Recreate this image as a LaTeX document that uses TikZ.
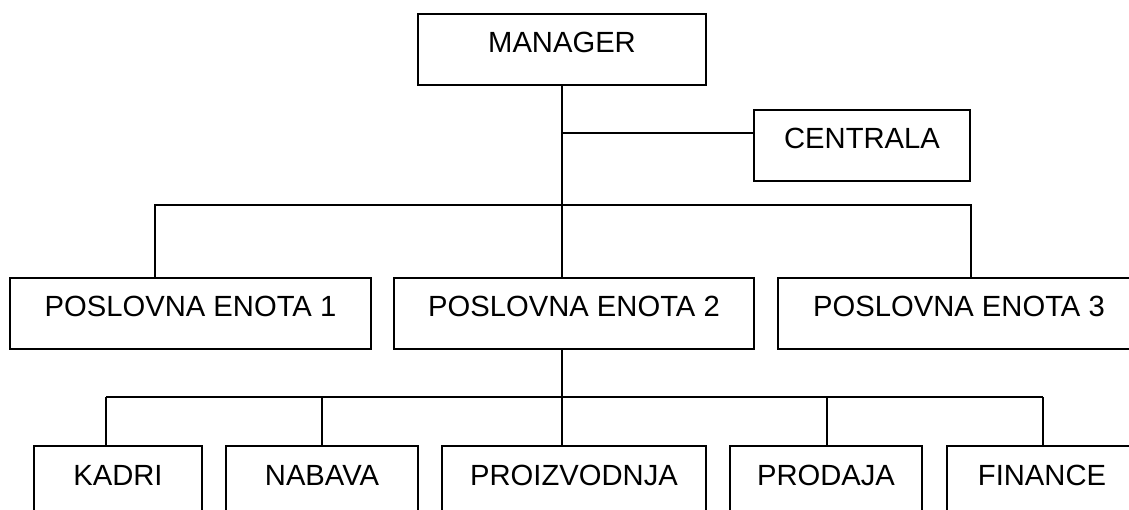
\documentclass[tikz,border=0pt]{standalone}
\usepackage{fontspec}
\setmainfont{Liberation Sans}
\usepackage{tikz}
\usetikzlibrary{positioning}

\tikzset{
    unit/.style={draw, line width=2pt, inner xsep=0pt, inner ysep=0pt,
        text height=39pt, text depth=32pt, anchor=north,
        font=\fontsize{29.2}{34}\selectfont},
    link/.style={line width=2pt}
}

\begin{document}
\begin{tikzpicture}[x=1pt,y=-1pt]
                \clip (0,0) rectangle (1129,510);
                \def\bus{205}
                \def\sub{397}
                % top level
                \node[unit, minimum width=288pt] (mgr) at (562,12.7) {MANAGER};
                \node[unit, minimum width=216pt] (cen) at (862,109) {CENTRALA};
                % business units
                \node[unit, minimum width=361pt] (pe1) at (190.5,277) {POSLOVNA ENOTA 1};
                \node[unit, minimum width=360pt] (pe2) at (574,277) {POSLOVNA ENOTA 2};
                \node[unit, minimum width=362pt] (pe3) at (959,277) {POSLOVNA ENOTA 3};
                % departments
                \node[unit, minimum width=168pt] (kad) at (118,445) {KADRI};
                \node[unit, minimum width=192pt] (nab) at (322,445) {NABAVA};
                \node[unit, minimum width=264pt] (pro) at (574,445) {PROIZVODNJA};
                \node[unit, minimum width=192pt] (prd) at (826,445) {PRODAJA};
                \node[unit, minimum width=190pt] (fin) at (1042,445) {FINANCE};
                % connectors
                \coordinate (cj) at (562,133);
                \coordinate (b1) at (154.5,\bus);
                \coordinate (b3) at (971,\bus);
                \coordinate (s1) at (106,\sub);
                \coordinate (s5) at (1042.5,\sub);
                \draw[link] (mgr.south -| cj) -- (pe2.north -| cj);
                \draw[link] (cj) -- (cj -| cen.west);
                \draw[link] (b1 |- pe1.north) -- (b1) -- (b3) -- (b3 |- pe3.north);
                \draw[link] (pe2.south -| cj) -- (cj |- s1);
                \draw[link] (s1) -- (s5);
                \foreach \n/\x in {kad/106, nab/322, pro/562, prd/826.5, fin/1042.5}
                    \draw[link] (\x,\sub) -- (\n.north -| \x,0);
            \end{tikzpicture}
\end{document}
